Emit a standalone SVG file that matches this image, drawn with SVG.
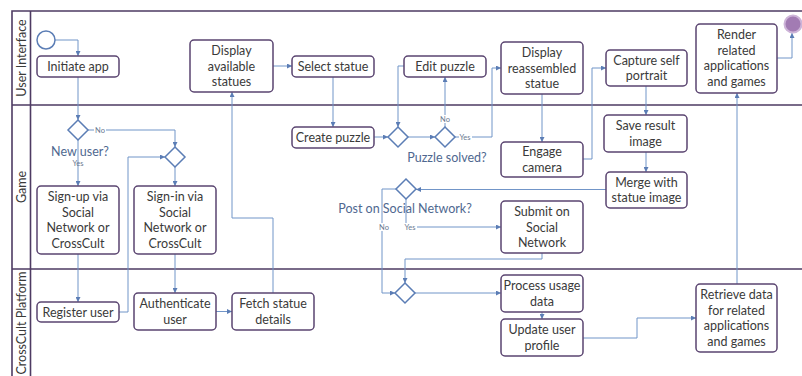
<svg xmlns="http://www.w3.org/2000/svg" width="802" height="376" viewBox="0 0 802 376">
<defs>
<marker id="arr" markerWidth="5" markerHeight="5" refX="5" refY="2.5" orient="auto" markerUnits="userSpaceOnUse">
<path d="M0,0 L5,2.5 L0,5 z" fill="#5b7db5"/>
</marker>
<style>
.lane{stroke:#4e3b63;stroke-width:1.6;fill:none}
.box{fill:#fff;stroke:#5a4470;stroke-width:1.5}
.t{font-family:Lato,"Liberation Sans",sans-serif;font-size:12.5px;fill:#3a3a3a;text-anchor:middle}
.lt{font-family:Lato,"Liberation Sans",sans-serif;font-size:12.5px;fill:#3a3a3a;text-anchor:middle}
.q{font-family:Lato,"Liberation Sans",sans-serif;font-size:12.5px;fill:#4f6890;text-anchor:middle}
.s{font-family:Lato,"Liberation Sans",sans-serif;font-size:7.5px;fill:#6a7890;text-anchor:middle}
.c{fill:none;stroke:#7195c8;stroke-width:1;marker-end:url(#arr)}
.dia{fill:#fff;stroke:#5b7db5;stroke-width:1.5}
</style>
</defs>
<rect width="802" height="376" fill="#fff"/>
<g id="pool">
<path class="lane" d="M802,11 H12 V376 M30.5,11 V376 M12,105 H802 M12,269 H802"/>
<text class="lt" transform="translate(26,58) rotate(-90)">User Interface</text>
<text class="lt" transform="translate(26,187) rotate(-90)">Game</text>
<text class="lt" transform="translate(26,323) rotate(-90)">CrossCult Platform</text>
</g>
<g id="connectors">
<path class="c" d="M55,40 H78 V56"/>
<path class="c" d="M78,77 V120"/>
<path class="c" d="M88,130 H175 V147"/>
<path class="c" d="M78,140 V186"/>
<path class="c" d="M175,167 V186"/>
<path class="c" d="M78,254 V302"/>
<path class="c" d="M119,312 H128 V157 H165"/>
<path class="c" d="M175,254 V293"/>
<path class="c" d="M216,311.5 H232"/>
<path class="c" d="M273,293 V218 H232 V92"/>
<path class="c" d="M273,66 H292"/>
<path class="c" d="M333,77 V127"/>
<path class="c" d="M374,137 H388"/>
<path class="c" d="M404,66 H398 V127"/>
<path class="c" d="M408,137 H435"/>
<path class="c" d="M445,127 V77"/>
<path class="c" d="M455,137 H492 V68 H501"/>
<path class="c" d="M542,94 V142"/>
<path class="c" d="M583,159 H592 V68 H606"/>
<path class="c" d="M646,86 V115"/>
<path class="c" d="M646,152 V172"/>
<path class="c" d="M606,189.5 H416"/>
<path class="c" d="M396,189 H382 V293 H395"/>
<path class="c" d="M406,199 V227 H501"/>
<path class="c" d="M542,253 V259 H405 V283"/>
<path class="c" d="M415,293 H501"/>
<path class="c" d="M542,312 V319"/>
<path class="c" d="M583,338 H637 V318 H696"/>
<path class="c" d="M737,284 V93"/>
<path class="c" d="M777,58 H792 V33"/>
<g id="connector-labels">
<rect x="94" y="126" width="12" height="8" fill="#fff"/>
<text class="s" x="100" y="133">No</text>
<text class="s" x="78" y="166">Yes</text>
<rect x="439" y="115" width="12" height="8" fill="#fff"/>
<text class="s" x="445" y="122">No</text>
<rect x="459" y="133" width="13" height="8" fill="#fff"/>
<text class="s" x="465" y="140">Yes</text>
<rect x="378" y="223" width="12" height="8" fill="#fff"/>
<text class="s" x="384" y="230">No</text>
<rect x="403" y="223" width="14" height="8" fill="#fff"/>
<text class="s" x="410" y="230">Yes</text>
</g>
</g>
<g id="start"><circle cx="46" cy="40" r="9" fill="#fff" stroke="#5b7db5" stroke-width="1.5"/></g>
<g id="end"><circle cx="793" cy="24" r="8.5" fill="#a27bb3" stroke="#cdb4d8" stroke-width="2"/></g>
<g id="n-initiate"><rect class="box" x="37" y="56" width="82" height="21" rx="4"/><text class="t" x="78" y="71">Initiate app</text></g>
<g id="n-display-available"><rect class="box" x="190" y="40" width="83" height="52" rx="4"/><text class="t" x="231.5" y="55">Display</text><text class="t" x="231.5" y="70.5">available</text><text class="t" x="231.5" y="86">statues</text></g>
<g id="n-select"><rect class="box" x="292" y="56" width="82" height="21" rx="4"/><text class="t" x="333" y="71">Select statue</text></g>
<g id="n-edit"><rect class="box" x="404" y="56" width="82" height="21" rx="4"/><text class="t" x="445" y="71">Edit puzzle</text></g>
<g id="n-display-reassembled"><rect class="box" x="501" y="42" width="82" height="52" rx="4"/><text class="t" x="542" y="57">Display</text><text class="t" x="542" y="72.5">reassembled</text><text class="t" x="542" y="88">statue</text></g>
<g id="n-capture"><rect class="box" x="606" y="50" width="81" height="36" rx="4"/><text class="t" x="646.5" y="64.5">Capture self</text><text class="t" x="646.5" y="80">portrait</text></g>
<g id="n-render"><rect class="box" x="696" y="24" width="81" height="69" rx="4"/><text class="t" x="736.5" y="39">Render</text><text class="t" x="736.5" y="54.5">related</text><text class="t" x="736.5" y="70">applications</text><text class="t" x="736.5" y="85.5">and games</text></g>
<g id="n-create"><rect class="box" x="292" y="127" width="82" height="21" rx="4"/><text class="t" x="333" y="142">Create puzzle</text></g>
<g id="n-engage"><rect class="box" x="501" y="142" width="82" height="35" rx="4"/><text class="t" x="542" y="156">Engage</text><text class="t" x="542" y="171.5">camera</text></g>
<g id="n-save"><rect class="box" x="604" y="115" width="83" height="37" rx="4"/><text class="t" x="645.5" y="130">Save result</text><text class="t" x="645.5" y="145.5">image</text></g>
<g id="n-merge"><rect class="box" x="606" y="172" width="81" height="36" rx="4"/><text class="t" x="646.5" y="186.5">Merge with</text><text class="t" x="646.5" y="202">statue image</text></g>
<g id="n-submit"><rect class="box" x="501" y="201" width="82" height="52" rx="4"/><text class="t" x="542" y="216">Submit on</text><text class="t" x="542" y="231.5">Social</text><text class="t" x="542" y="247">Network</text></g>
<g id="n-signup"><rect class="box" x="37" y="186" width="82" height="68" rx="4"/><text class="t" x="78" y="201">Sign-up via</text><text class="t" x="78" y="216.5">Social</text><text class="t" x="78" y="232">Network or</text><text class="t" x="78" y="247.5">CrossCult</text></g>
<g id="n-signin"><rect class="box" x="134" y="186" width="82" height="68" rx="4"/><text class="t" x="175" y="201">Sign-in via</text><text class="t" x="175" y="216.5">Social</text><text class="t" x="175" y="232">Network or</text><text class="t" x="175" y="247.5">CrossCult</text></g>
<g id="n-register"><rect class="box" x="37" y="302" width="82" height="20" rx="4"/><text class="t" x="78" y="316.5">Register user</text></g>
<g id="n-authenticate"><rect class="box" x="134" y="293" width="82" height="37" rx="4"/><text class="t" x="175" y="308">Authenticate</text><text class="t" x="175" y="323.5">user</text></g>
<g id="n-fetch"><rect class="box" x="232" y="293" width="82" height="37" rx="4"/><text class="t" x="273" y="308">Fetch statue</text><text class="t" x="273" y="323.5">details</text></g>
<g id="n-process"><rect class="box" x="501" y="275" width="82" height="37" rx="4"/><text class="t" x="542" y="290">Process usage</text><text class="t" x="542" y="305.5">data</text></g>
<g id="n-update"><rect class="box" x="501" y="319" width="82" height="37" rx="4"/><text class="t" x="542" y="334">Update user</text><text class="t" x="542" y="349.5">profile</text></g>
<g id="n-retrieve"><rect class="box" x="696" y="284" width="81" height="68" rx="4"/><text class="t" x="736.5" y="299">Retrieve data</text><text class="t" x="736.5" y="314.5">for related</text><text class="t" x="736.5" y="330">applications</text><text class="t" x="736.5" y="345.5">and games</text></g>
<g id="d-newuser"><path class="dia" d="M78,120 L88,130 L78,140 L68,130 z"/><text class="q" x="80" y="156">New user?</text></g>
<g id="d-merge"><path class="dia" d="M175,147 L185,157 L175,167 L165,157 z"/></g>
<g id="d-check"><path class="dia" d="M398,127 L408,137 L398,147 L388,137 z"/></g>
<g id="d-solved"><path class="dia" d="M445,127 L455,137 L445,147 L435,137 z"/><text class="q" x="447" y="162">Puzzle solved?</text></g>
<g id="d-post"><path class="dia" d="M406,179 L416,189 L406,199 L396,189 z"/><text class="q" x="405" y="213">Post on Social Network?</text></g>
<g id="d-join"><path class="dia" d="M405,283 L415,293 L405,303 L395,293 z"/></g>
</svg>
